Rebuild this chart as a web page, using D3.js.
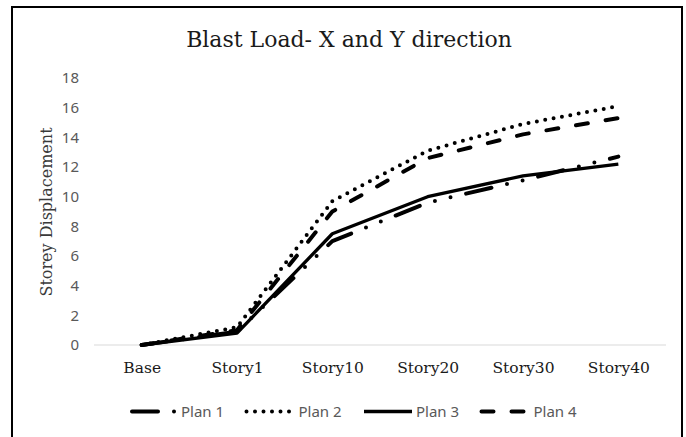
<!DOCTYPE html>
<html>
<head>
<meta charset="utf-8">
<script src="https://cdn.jsdelivr.net/npm/d3@7"></script>
<style>
  body { margin: 0; background: #fff; }
  svg { display: block; }
</style>
</head>
<body>
<div id="chart"></div>
<script>
// chart data
var stories = ["Base", "Story1", "Story10", "Story20", "Story30", "Story40"];
var plan1 = [0, 0.9, 7.0, 9.6, 11.1, 12.7];
var plan2 = [0, 1.2, 9.7, 13.1, 14.9, 16.1];
var plan3 = [0, 0.8, 7.5, 10.0, 11.4, 12.2];
var plan4 = [0, 1.0, 9.0, 12.6, 14.2, 15.3];
var planNames = ["Plan 1", "Plan 2", "Plan 3", "Plan 4"];
var yTicks = [0, 2, 4, 6, 8, 10, 12, 14, 16, 18];

var width = 686,
    height = 437;

var series = [plan1, plan2, plan3, plan4];

// line styles per plan (long dash dot dot, round dot, solid, dash)
var styles = [
    {dash: "26,16,0,16,0,16", w: 4},
    {dash: "0,8.5", w: 4},
    {dash: null, w: 3.3},
    {dash: "12,18", w: 4}
];

var svg = d3.select("#chart")
    .append("svg")
    .attr("width", width)
    .attr("height", height);

svg.append("rect")
    .attr("width", width)
    .attr("height", height)
    .attr("fill", "#fff");

// outer frame
svg.append("rect")
    .attr("x", 12)
    .attr("y", 7)
    .attr("width", 670)
    .attr("height", 445)
    .attr("fill", "none")
    .attr("stroke", "#000")
    .attr("stroke-width", 2);

var x = d3.scalePoint()
    .domain(stories)
    .range([94, 666])
    .padding(0.5);

var y = d3.scaleLinear()
    .domain([0, 18])
    .range([345, 78]);

// title
svg.append("text")
    .attr("x", 349)
    .attr("y", 47)
    .attr("text-anchor", "middle")
    .style("font-family", "DejaVu Serif")
    .style("font-size", "22px")
    .attr("fill", "#1a1a1a")
    .text("Blast Load- X and Y direction");

// y axis title
svg.append("text")
    .attr("transform", "translate(52," + 212 + ") rotate(-90)")
    .attr("text-anchor", "middle")
    .style("font-family", "DejaVu Serif")
    .style("font-size", "16px")
    .attr("fill", "#3a3a3a")
    .text("Storey Displacement");

// y ticks
var yAxis = d3.axisLeft(y)
    .tickValues(yTicks)
    .tickSize(0)
    .tickPadding(0);

var gy = svg.append("g")
    .attr("transform", "translate(79,0)")
    .call(yAxis);
gy.select(".domain").remove();
gy.selectAll("text")
    .style("font-family", "Noto Sans")
    .style("font-size", "15px")
    .attr("fill", "#595959");

// zero line
svg.append("line")
    .attr("x1", 94)
    .attr("x2", 666)
    .attr("y1", y(0))
    .attr("y2", y(0))
    .attr("stroke", "#d9d9d9")
    .attr("stroke-width", 1);

// x labels
var xAxis = d3.axisBottom(x)
    .tickSize(0)
    .tickPadding(0);

var gx = svg.append("g")
    .attr("transform", "translate(0,362)")
    .call(xAxis);
gx.select(".domain").remove();
gx.selectAll("text")
    .style("font-family", "DejaVu Serif")
    .style("font-size", "15.5px")
    .attr("fill", "#1a1a1a");

// lines
var line = d3.line()
    .x(function(d, i) { return x(stories[i]); })
    .y(function(d) { return y(d); });

series.forEach(function(s, i) {
    svg.append("path")
        .datum(s)
        .attr("d", line)
        .attr("fill", "none")
        .attr("stroke", "#000")
        .attr("stroke-width", styles[i].w)
        .attr("stroke-linecap", styles[i].dash ? "round" : "butt")
        .attr("stroke-linejoin", "round")
        .attr("stroke-dasharray", styles[i].dash);
});

// legend
var legend = svg.append("g")
    .attr("transform", "translate(127,411.5)");

planNames.forEach(function(name, i) {
    var g = legend.append("g")
        .attr("transform", "translate(" + (i * 117.5) + ",0)");
    g.append("line")
        .attr("x1", i == 0 ? 5 : 2)
        .attr("x2", 50)
        .attr("stroke", "#000")
        .attr("stroke-width", styles[i].w)
        .attr("stroke-linecap", styles[i].dash ? "round" : "butt")
        .attr("stroke-dasharray", styles[i].dash);
    g.append("text")
        .attr("x", 54)
        .attr("dy", "0.35em")
        .style("font-family", "Noto Sans")
        .style("font-size", "15px")
        .attr("fill", "#595959")
        .text(name);
});
</script>
</body>
</html>
